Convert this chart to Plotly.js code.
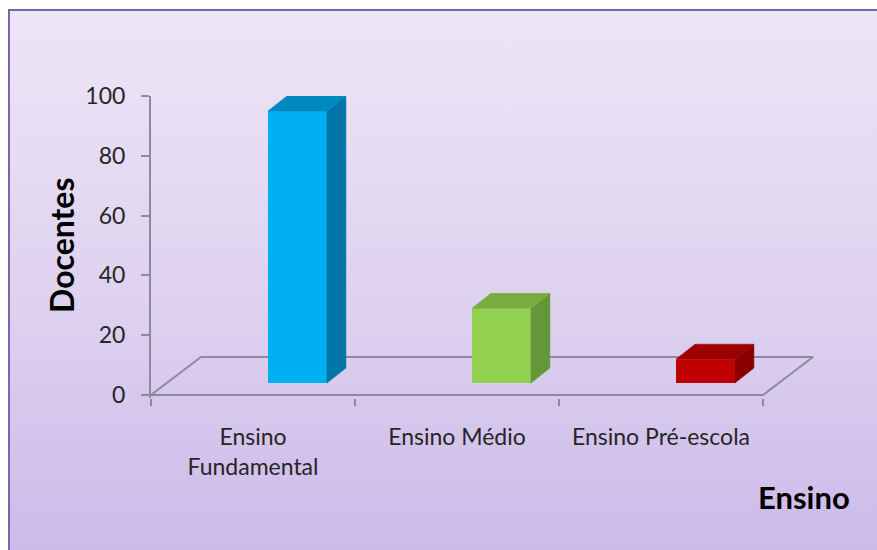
<!DOCTYPE html>
<html>
<head>
<meta charset="utf-8">
<script src="https://cdn.plot.ly/plotly-3.0.1.min.js"></script>
<style>
  html, body { margin: 0; padding: 0; background: #ffffff; width: 877px; height: 550px; overflow: hidden; }
  #frame {
    position: absolute; left: 8px; top: 9px; width: 900px; height: 600px;
    border: 2px solid #7C66A8;
    background: linear-gradient(to bottom, #EDE6F6 0%, #DDD1EF 50%, #C8B4E8 100%);
  }
  #chart { position: absolute; left: 0; top: 0; width: 877px; height: 550px; }
</style>
</head>
<body>
<div id="frame"></div>
<div id="chart"></div>
<script>
// ---- data ----
const categories = ["Ensino<br>Fundamental", "Ensino Médio", "Ensino Pré-escola"];
const docentes = [91, 25, 8];
const yTickValues = [0, 20, 40, 60, 80, 100];
const xAxisTitle = "Ensino";
const yAxisTitle = "Docentes";

// ---- styles ----
const frontColors = ["#00B0F0", "#92D050", "#C00000"];
const sideColors  = ["#0075A6", "#64963A", "#8A0000"];
const topColors   = ["#0089BF", "#79AC3F", "#9E0000"];
const FONT = "Lato, 'Open Sans', sans-serif";
const gridGrey = "#8E8A9C";

const barWidth = 0.289, barOffset = 0.0735;   // category units
const barDX = 0.093, barDY = 5.0;             // depth of bars
const floorDX = 0.245, floorDY = 12.7;        // depth of floor
const y2Shift = 4.0;                          // bars sit at mid-depth of floor

const xs = categories.map((_, i) => i);

const traces = [];
// floor (base subplot x/y)
traces.push({
  type: "scatter", mode: "lines", xaxis: "x", yaxis: "y",
  x: [-0.5, categories.length - 0.5, categories.length - 0.5 + floorDX, -0.5 + floorDX, -0.5],
  y: [0, 0, floorDY, floorDY, 0],
  line: { color: gridGrey, width: 2 }, hoverinfo: "skip", showlegend: false
});
// front faces of bars
traces.push({
  type: "bar", xaxis: "x", yaxis: "y2",
  x: xs, y: docentes, width: barWidth, offset: barOffset,
  marker: { color: frontColors, line: { width: 0 } },
  hoverinfo: "x+y", showlegend: false
});
// side and top faces
docentes.forEach((v, i) => {
  const x0 = xs[i] + barOffset, x1 = x0 + barWidth;
  traces.push({
    type: "scatter", mode: "lines", fill: "toself", xaxis: "x", yaxis: "y2",
    x: [x1, x1, x1 + barDX, x1 + barDX, x1],
    y: [0, v, v + barDY, barDY, 0],
    fillcolor: sideColors[i], line: { color: sideColors[i], width: 0.5 },
    hoverinfo: "skip", showlegend: false
  });
  traces.push({
    type: "scatter", mode: "lines", fill: "toself", xaxis: "x", yaxis: "y2",
    x: [x0, x1, x1 + barDX, x0 + barDX, x0],
    y: [v, v, v + barDY, v + barDY, v],
    fillcolor: topColors[i], line: { color: topColors[i], width: 0.5 },
    hoverinfo: "skip", showlegend: false
  });
});

const L = 151, T = 96, R = 47, B = 152;
const plotW = 877 - L - R, plotH = 550 - T - B;
const pxPerCat = 204;

const layout = {
  width: 877, height: 550,
  margin: { l: L, r: R, t: T, b: B },
  paper_bgcolor: "rgba(0,0,0,0)", plot_bgcolor: "rgba(0,0,0,0)",
  showlegend: false,
  font: { family: FONT, color: "#262626" },
  xaxis: {
    type: "linear", range: [-0.5, -0.5 + plotW / pxPerCat],
    tickmode: "array", tickvals: xs, ticktext: categories,
    ticks: "", showgrid: false, zeroline: false, showline: false,
    tickfont: { family: FONT, size: 23, color: "#262626" },
    ticklabelstandoff: 23,
    minor: {
      tickmode: "array",
      tickvals: [-0.5, 0.5, 1.5, 2.5],
      ticks: "outside", ticklen: 7, tickwidth: 2, tickcolor: gridGrey, showgrid: false
    },
    fixedrange: true
  },
  yaxis: {
    range: [-1, 100], tickmode: "array", tickvals: yTickValues,
    ticks: "outside", ticklen: 8, tickwidth: 2, tickcolor: gridGrey,
    showline: true, linecolor: gridGrey, linewidth: 2,
    showgrid: false, zeroline: false,
    tickfont: { family: FONT, size: 23, color: "#262626" },
    ticklabelstandoff: 11,
    fixedrange: true
  },
  yaxis2: {
    overlaying: "y", range: [-1 - y2Shift, 100 - y2Shift],
    showticklabels: false, ticks: "", showgrid: false, zeroline: false, showline: false,
    fixedrange: true
  },
  annotations: [
    {
      text: yAxisTitle, xref: "paper", yref: "paper",
      x: (61 - L) / plotW, y: (550 - B - 245) / plotH,
      xanchor: "center", yanchor: "middle", textangle: -90, showarrow: false,
      font: { family: FONT, size: 32, color: "#000000", weight: "bold" }
    },
    {
      text: xAxisTitle, xref: "paper", yref: "paper",
      x: (804 - L) / plotW, y: (550 - B - 497) / plotH,
      xanchor: "center", yanchor: "middle", showarrow: false,
      font: { family: FONT, size: 31, color: "#000000", weight: "bold" }
    }
  ]
};

Plotly.newPlot("chart", traces, layout, { displayModeBar: false, staticPlot: true });
</script>
</body>
</html>
